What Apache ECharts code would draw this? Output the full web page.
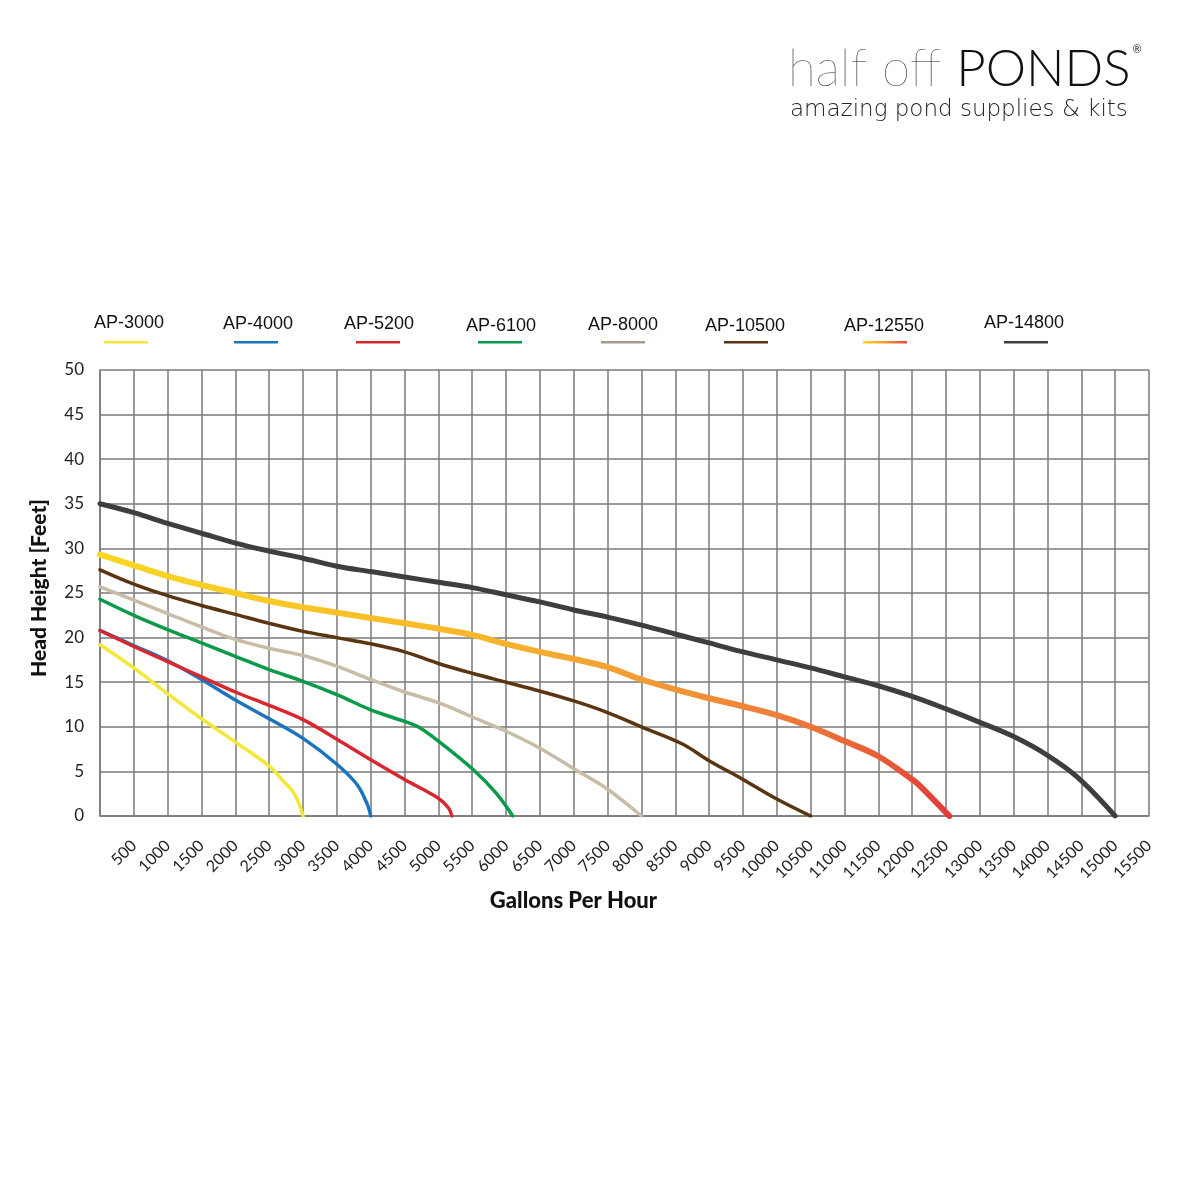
<!DOCTYPE html>
<html>
<head>
<meta charset="utf-8">
<script src="https://cdn.jsdelivr.net/npm/echarts@6/dist/echarts.min.js"></script>
<style>html,body{margin:0;padding:0;background:#fff;}#c{width:1200px;height:1200px;}</style>
</head>
<body>
<div id="c"></div>
<script>
// ---- data ----
var seriesNames = ['AP-3000','AP-4000','AP-5200','AP-6100','AP-8000','AP-10500','AP-12550','AP-14800'];
var ap3000 = [[0,19.2],[500,16.6],[1000,13.7],[1500,10.9],[2000,8.3],[2500,5.6],[2700,4.0],[2880,2.4],[3000,0]];
var ap4000 = [[0,20.8],[500,19.1],[1000,17.4],[1500,15.3],[2000,13.0],[2500,10.9],[3000,8.7],[3500,5.8],[3800,3.5],[3950,1.3],[4000,0]];
var ap5200 = [[0,20.8],[500,19.0],[1000,17.3],[1500,15.6],[2000,13.9],[2500,12.4],[3000,10.8],[3500,8.6],[4000,6.3],[4500,4.1],[5000,2.0],[5150,0.9],[5200,0]];
var ap6100 = [[0,24.3],[500,22.5],[1000,20.9],[1500,19.4],[2000,17.9],[2500,16.4],[3000,15.1],[3500,13.6],[4000,11.9],[4500,10.6],[4700,10.0],[5000,8.4],[5500,5.3],[5850,2.6],[6100,0]];
var ap8000 = [[0,25.7],[500,24.2],[1000,22.7],[1500,21.2],[2000,19.8],[2500,18.8],[3000,18.0],[3500,16.8],[4000,15.3],[4500,13.9],[5000,12.7],[5500,11.1],[6000,9.5],[6500,7.6],[7000,5.3],[7500,3.0],[8000,0]];
var ap10500 = [[0,27.6],[500,26.0],[1000,24.7],[1500,23.6],[2000,22.6],[2500,21.6],[3000,20.7],[3500,20.0],[4000,19.3],[4500,18.4],[5000,17.1],[5500,16.0],[6000,15.0],[6500,14.0],[7000,12.9],[7500,11.6],[8000,10.0],[8600,8.1],[9000,6.2],[9500,4.1],[10000,1.9],[10500,0]];
var ap12550 = [[0,29.3],[500,28.1],[1000,26.9],[1500,25.9],[2000,25.0],[2500,24.1],[3000,23.4],[3500,22.8],[4000,22.2],[4500,21.6],[5000,21.0],[5500,20.3],[6000,19.3],[6500,18.4],[7000,17.6],[7500,16.7],[8000,15.3],[8500,14.2],[9000,13.2],[9500,12.3],[10000,11.3],[10500,10.0],[11000,8.4],[11500,6.7],[12000,4.1],[12100,3.5],[12550,0]];
var ap14800 = [[0,35.0],[500,34.0],[1000,32.8],[1500,31.7],[2000,30.6],[2500,29.7],[3000,28.9],[3500,28.0],[4000,27.4],[4500,26.8],[5000,26.2],[5500,25.6],[6000,24.8],[6500,24.0],[7000,23.1],[7500,22.3],[8000,21.4],[8500,20.4],[9000,19.4],[9500,18.4],[10000,17.5],[10500,16.6],[11000,15.6],[11500,14.6],[12000,13.4],[12500,12.0],[13000,10.5],[13500,8.9],[14000,6.8],[14450,4.3],[15000,0]];
var allData = [ap3000, ap4000, ap5200, ap6100, ap8000, ap10500, ap12550, ap14800];

// ---- styles ----
var orangeGrad = function(){
  return new echarts.graphic.LinearGradient(0,0,1,0,[
    {offset:0,color:'#fbd722'},{offset:0.45,color:'#f7b52c'},{offset:0.65,color:'#f29a34'},
    {offset:0.8,color:'#ee7c38'},{offset:0.92,color:'#e85a38'},{offset:1,color:'#e03a3a'}]);
};
var colors = ['#f3e838','#1c75bc','#d7282f','#0b9a48','#c9bca6','#5b3511',null,'#3e3e40'];
var widths = [3.5,3.5,3.5,3.5,3.5,3.5,6,5];
var legendColors = ['#f3e838','#1c75bc','#d7282f','#0b9a48','#a89a8d','#5b3511',null,'#3e3e40'];
var legendCx = [129,258,379,501,623,745,884,1024];
var legendTy = [323,324,324,326,325,326,326,323];
var legendLx = [126,256,378,500,623,746,885,1026];

var series = allData.map(function(d,i){
  return {
    name: seriesNames[i], type:'line', data:d, symbol:'none',
    smooth:0.35, z: 3 + (i===6?1:0),
    lineStyle:{color: colors[i] || orangeGrad(), width: widths[i], cap:'round', join:'round'},
    itemStyle:{color: colors[i] || '#f29a34'}
  };
});

var graphics = [];
seriesNames.forEach(function(n,i){
  graphics.push({type:'text', x: legendCx[i], y: legendTy[i], style:{text:n, fill:'#111', font:'18px "Liberation Sans", Arial, sans-serif', align:'center', verticalAlign:'middle'}});
  graphics.push({type:'rect', shape:{x:legendLx[i]-22, y:341, width:44, height:2.6},
    style:{fill: legendColors[i] || new echarts.graphic.LinearGradient(0,0,1,0,[{offset:0,color:'#fbd722'},{offset:0.5,color:'#f39a34'},{offset:1,color:'#e04a3a'}])}});
});
// logo
graphics.push({type:'text', left:788, top:44, style:{
  text:'{a|half off }{b|PONDS}{c|®}',
  rich:{
    a:{font:'100 51px Lato, "Open Sans", sans-serif', fill:'#222'},
    b:{font:'300 51px Lato, "Open Sans", sans-serif', fill:'#111'},
    c:{font:'11px Lato, sans-serif', fill:'#222', verticalAlign:'top', padding:[0,0,30,2]}
  }}});
graphics.push({type:'text', left:790, top:99, style:{text:'amazing pond supplies & kits', font:'200 23px "DejaVu Sans", sans-serif', fill:'#222'}});

var chart = echarts.init(document.getElementById('c'));
chart.setOption({
  backgroundColor:'#fff',
  animation:false,
  grid:{left:100, right:51, top:370, bottom:384, containLabel:false},
  xAxis:{type:'value', min:0, max:15500, interval:500,
    axisLine:{show:true, lineStyle:{color:'#7a7a7a', width:1.5}},
    axisTick:{show:false},
    splitLine:{show:true, lineStyle:{color:'#7a7a7a', width:1.5}},
    axisLabel:{rotate:45, margin:27, fontSize:16, color:'#222', fontFamily:'Lato, "Open Sans", sans-serif',
      formatter:function(v){return v===0?'':String(v);}},
    name:'Gallons Per Hour', nameLocation:'middle', nameGap:74,
    nameTextStyle:{fontSize:22, fontWeight:900, color:'#111', fontFamily:'Lato, "Open Sans", sans-serif', padding:[0,102,0,0]}
  },
  yAxis:{type:'value', min:0, max:50, interval:5,
    axisLine:{show:true, lineStyle:{color:'#7a7a7a', width:1.5}},
    axisTick:{show:false},
    splitLine:{show:true, lineStyle:{color:'#7a7a7a', width:1.5}},
    axisLabel:{margin:16, fontSize:17, color:'#222', fontFamily:'Lato, "Open Sans", sans-serif'},
    name:'Head Height [Feet]', nameLocation:'middle', nameGap:50, nameRotate:90,
    nameTextStyle:{fontSize:21, fontWeight:900, color:'#111', fontFamily:'Lato, "Open Sans", sans-serif', padding:[0,0,0,10]}
  },
  series: series,
  graphic: graphics
});
</script>
</body>
</html>
